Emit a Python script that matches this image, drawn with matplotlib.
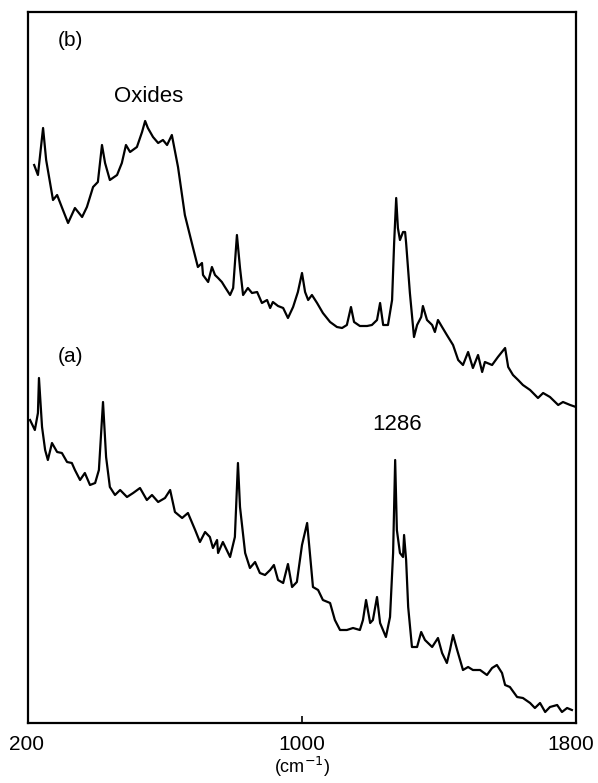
"""
Raman spectra (a) and (b), with the oxide band in (b)
"""
import matplotlib
matplotlib.use("Agg")
import matplotlib.pyplot as plt
import matplotlib.transforms as mtransforms

plt.rcParams["font.family"] = ["Liberation Sans", "DejaVu Sans"]

# wavenumber (cm-1) and intensity (arbitrary units)
shift_b = [218, 229, 244, 253, 264, 273, 285, 302, 317, 337, 358, 372, 390, 404, 416, 425,
           439, 460, 474, 486, 498, 518, 533, 542, 550, 565, 580, 594, 606, 620, 638, 658,
           682, 696, 708, 711, 726, 737, 746, 755, 766, 775, 790, 799, 810, 819, 828, 842,
           854, 869, 883, 898, 907, 915, 930, 945, 959, 974, 988, 1000, 1009, 1018, 1029,
           1044, 1061, 1082, 1102, 1117, 1131, 1143, 1152, 1169, 1190, 1204, 1219, 1228,
           1237, 1251, 1263, 1269, 1275, 1280, 1286, 1295, 1301, 1304, 1315, 1327, 1336,
           1348, 1353, 1365, 1380, 1388, 1397, 1409, 1423, 1441, 1456, 1470, 1485, 1499,
           1514, 1526, 1534, 1555, 1572, 1593, 1602, 1616, 1631, 1645, 1666, 1689, 1704,
           1724, 1748, 1762, 1783, 1800]
inten_b = [558, 548, 595, 563, 541, 523, 528, 513, 500, 515, 506, 516, 536, 541, 578, 560,
           543, 548, 560, 578, 571, 576, 591, 602, 595, 586, 580, 583, 578, 588, 556, 508,
           475, 456, 460, 448, 441, 456, 448, 445, 441, 436, 428, 435, 488, 455, 428, 435,
           430, 431, 420, 423, 415, 421, 417, 415, 405, 416, 431, 450, 431, 423, 428,
           420, 410, 401, 396, 395, 398, 416, 401, 397, 397, 398, 403, 420,
           398, 398, 423, 480, 525, 495, 483, 491, 491, 480, 430, 386, 398,
           406, 417, 403, 398, 391, 403, 396, 388, 378, 363, 358, 371, 355,
           368, 351, 361, 358, 366, 375, 356, 348, 343, 338, 333, 325, 330,
           326, 318, 321, 318, 316]

shift_a = [206, 220, 229, 232, 241, 250, 258, 270, 285, 299, 314, 328, 337, 352, 366, 381,
           396, 407, 419, 428, 439, 454, 469, 489, 507, 527, 547, 562, 580, 600, 615, 629,
           650, 667, 688, 702, 717, 731, 740, 752, 755, 769, 790, 804, 813, 819, 834, 848,
           863, 877, 892, 907, 918, 930, 945, 959, 971, 985, 1000, 1015, 1023, 1032, 1047,
           1061, 1082, 1096, 1111, 1131, 1149, 1169, 1178, 1187, 1199, 1207, 1219, 1228,
           1245, 1257, 1266, 1272, 1277, 1286, 1295, 1298, 1304, 1310, 1321, 1336, 1348,
           1359, 1380, 1397, 1409, 1423, 1432, 1441, 1453, 1470, 1485, 1499, 1520, 1540,
           1555, 1569, 1584, 1593, 1607, 1628, 1645, 1666, 1680, 1695, 1710, 1724, 1745,
           1759, 1774, 1788]
inten_a = [303, 293, 310, 345, 296, 273, 263, 280, 271, 270, 261, 260, 253, 243, 250, 238,
           240, 253, 321, 266, 236, 228, 233, 226, 230, 235, 223, 228, 221, 225, 233, 211,
           205, 210, 193, 181, 191, 186, 175, 183, 170, 181, 166, 186, 260, 216, 170, 155,
           161, 150, 148, 153, 158, 143, 140, 159, 136, 141, 178, 200, 170, 136, 133,
           123, 120, 103, 93, 93, 95, 93, 103, 123, 100, 103, 126, 100,
           86, 106, 170, 263, 193, 170, 166, 188, 163, 116, 76, 76, 91,
           83, 76, 85, 70, 60, 73, 88, 73, 53, 56, 53, 53, 48,
           55, 58, 50, 38, 36, 26, 25, 20, 15, 20, 11, 16, 18,
           11, 15, 13]

fig = plt.figure(figsize=(5.98, 7.83), dpi=100)
ax = fig.add_axes([28 / 598, 1 - 723 / 783, 548 / 598, 711 / 783])

ax.plot(shift_b, inten_b, color="black", lw=1.6)
ax.plot(shift_a, inten_a, color="black", lw=1.6)

ax.set_xlim(200, 1800)
ax.set_ylim(0, 711)
ax.set_xticks([200, 1000, 1800])
ax.set_yticks([])
ax.tick_params(axis="x", direction="in", length=5, width=1.2, labelsize=15, pad=9)
for s in ax.spines.values():
    s.set_linewidth(1.6)
ax.set_xlabel("(cm$^{-1}$)", fontsize=13, labelpad=0)

# keep the end labels inside the picture
fig.canvas.draw()
lbls = ax.get_xticklabels()
lbls[0].set_transform(lbls[0].get_transform() + mtransforms.ScaledTranslation(-0.02, 0, fig.dpi_scale_trans))
lbls[-1].set_transform(lbls[-1].get_transform() + mtransforms.ScaledTranslation(-0.05, 0, fig.dpi_scale_trans))

# annotations
ax.text(323, 683, "(b)", fontsize=15, ha="center", va="center")
ax.text(553, 626, "Oxides", fontsize=16, ha="center", va="center")
ax.text(323, 366, "(a)", fontsize=15, ha="center", va="center")
ax.text(1277, 298, "1286", fontsize=16, ha="center", va="center")

plt.savefig("out.png", dpi=100)
